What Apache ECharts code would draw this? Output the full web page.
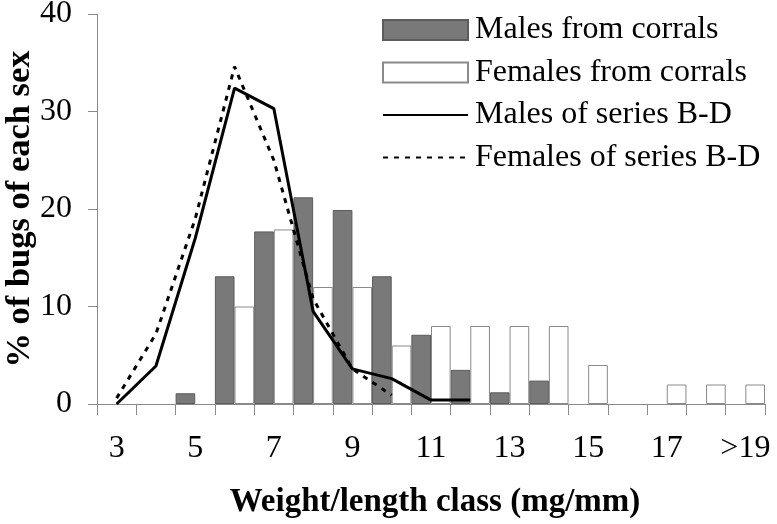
<!DOCTYPE html>
<html>
<head>
<meta charset="utf-8">
<script src="https://cdn.jsdelivr.net/npm/echarts@6/dist/echarts.min.js"></script>
<style>
html,body{margin:0;padding:0;background:#fff;}
#chart{width:777px;height:524px;}
</style>
</head>
<body>
<div id="chart"></div>
<script>
var categories = ['3','4','5','6','7','8','9','10','11','12','13','14','15','16','17','18','>19'];
var malesCorrals   = [0, 0, 1.1, 13.1, 17.7, 21.2, 19.9, 13.1, 7.1, 3.5, 1.2, 2.4, 0, 0, 0, 0, 0];
var femalesCorrals = [0, 0, 0, 10.0, 17.9, 12.0, 12.0, 6.0, 8.0, 8.0, 8.0, 8.0, 4.0, 0, 2.0, 2.0, 2.0];
var malesBD   = [0, 3.9, 17.0, 32.4, 30.3, 9.5, 3.6, 2.6, 0.4, 0.4, null, null, null, null, null, null, null];
var femalesBD = [0.6, 7.2, 19.0, 34.6, 25.0, 10.8, 3.6, 0.9, null, null, null, null, null, null, null, null, null];
var yTicks = [0, 10, 20, 30, 40];

function hideZero(arr) { return arr.map(function (v) { return v === 0 ? '-' : v; }); }

var FONT = "'Liberation Serif', 'Times New Roman', serif";
var chart = echarts.init(document.getElementById('chart'), null, {renderer: 'canvas'});
chart.setOption({
  animation: false,
  backgroundColor: '#fff',
  textStyle: {fontFamily: FONT, color: '#000'},
  grid: {left: 97, right: 12, top: 14, bottom: 120, containLabel: false, outerBoundsMode: 'none'},
  legend: {
    orient: 'vertical',
    left: 377,
    top: 9,
    itemWidth: 85,
    itemHeight: 20,
    itemGap: 10.5,
    textStyle: {fontFamily: FONT, fontSize: 32, color: '#000', lineHeight: 32, padding: [0,0,0,2]},
    data: [
      {name: 'Males from corrals', icon: 'rect'},
      {name: 'Females from corrals', icon: 'rect'},
      {name: 'Males of series B-D', itemStyle: {color: 'rgba(0,0,0,0)', borderWidth: 0}},
      {name: 'Females of series B-D', itemStyle: {color: 'rgba(0,0,0,0)', borderWidth: 0}}
    ]
  },
  xAxis: {
    type: 'category',
    data: categories,
    boundaryGap: true,
    name: 'Weight/length class (mg/mm)',
    nameLocation: 'middle',
    nameGap: 82,
    nameMoveOverlap: false,
    nameTextStyle: {fontFamily: FONT, fontSize: 33, fontWeight: 'bold', color: '#000', padding: [0, 0, 0, 8]},
    axisLine: {show: true, lineStyle: {color: '#8a8a8a', width: 1}},
    axisTick: {show: true, interval: 0, length: 11, lineStyle: {color: '#8a8a8a'}},
    axisLabel: {interval: 1, margin: 29, fontFamily: FONT, fontSize: 32, color: '#000'},
    splitLine: {show: false}
  },
  yAxis: {
    type: 'value',
    min: 0, max: 40, interval: 10,
    name: '% of bugs of each sex',
    nameLocation: 'middle',
    nameGap: 59,
    nameMoveOverlap: false,
    nameRotate: 90,
    nameTextStyle: {fontFamily: FONT, fontSize: 34.5, fontWeight: 'bold', color: '#000'},
    axisLine: {show: true, lineStyle: {color: '#8a8a8a', width: 1}},
    axisTick: {show: true, length: 9, lineStyle: {color: '#8a8a8a'}},
    axisLabel: {margin: 25, fontFamily: FONT, fontSize: 32, color: '#000',
      customValues: yTicks},
    splitLine: {show: false}
  },
  series: [
    {
      name: 'Males from corrals', type: 'bar', data: hideZero(malesCorrals),
      barGap: '0%', barCategoryGap: '0%',
      itemStyle: {color: '#797979', borderColor: '#5c5c5c', borderWidth: 1}
    },
    {
      name: 'Females from corrals', type: 'bar', data: hideZero(femalesCorrals),
      barGap: '0%', barCategoryGap: '0%',
      itemStyle: {color: '#ffffff', borderColor: '#8a8a8a', borderWidth: 1}
    },
    {
      name: 'Males of series B-D', type: 'line', data: malesBD,
      symbol: 'none', connectNulls: false,
      lineStyle: {color: '#000', width: 3, type: 'solid'},
      itemStyle: {color: '#000'}
    },
    {
      name: 'Females of series B-D', type: 'line', data: femalesBD,
      symbol: 'none', connectNulls: false,
      lineStyle: {color: '#000', width: 3, type: [5, 6]},
      itemStyle: {color: '#000'}
    }
  ]
});
</script>
</body>
</html>
